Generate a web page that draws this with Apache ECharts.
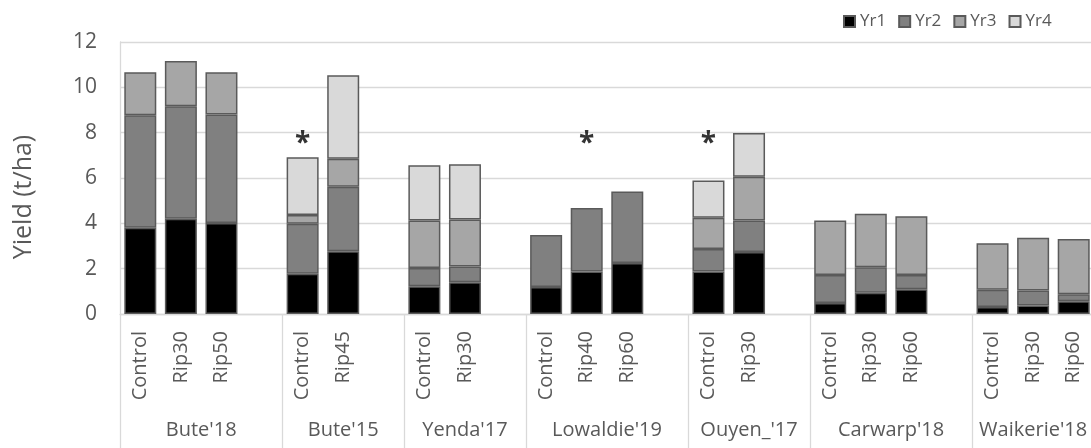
<!DOCTYPE html>
<html>
<head>
<meta charset="utf-8">
<script src="https://cdn.jsdelivr.net/npm/echarts@6/dist/echarts.min.js"></script>
<style>
html,body{margin:0;padding:0;background:#fff;}
#chart{width:1091px;height:448px;}
</style>
</head>
<body>
<div id="chart"></div>
<script>
// Treatment labels (blank entries are the gaps between sites)
const treatments = ['Control','Rip30','Rip50','',
  'Control','Rip45','',
  'Control','Rip30','',
  'Control','Rip40','Rip60','',
  'Control','Rip30','',
  'Control','Rip30','Rip60','',
  'Control','Rip30','Rip60'];
// Site labels and number of slots each site spans
const sites = ["Bute'18","Bute'15","Yenda'17","Lowaldie'19","Ouyen_'17","Carwarp'18","Waikerie'18"];
const siteSizes = [4,3,3,4,3,4,3];
const seriesNames = ['Yr1','Yr2','Yr3','Yr4'];
const yr1 = [3.80,4.20,4.02,null, 1.78,2.77,null, 1.22,1.40,null, 1.19,1.87,2.25,null, 1.87,2.74,null, 0.49,0.94,1.09,null, 0.31,0.37,0.56];
const yr2 = [4.97,4.97,4.78,null, 2.20,2.84,null, 0.81,0.70,null, 2.30,2.81,3.15,null, 1.00,1.39,null, 1.23,1.12,0.63,null, 0.76,0.67,0.31];
const yr3 = [1.90,1.99,1.87,null, 0.39,1.24,null, 2.10,2.07,null, null,null,null,null, 1.38,1.92,null, 2.40,2.36,2.59,null, 2.05,2.32,2.44];
const yr4 = [null,null,null,null, 2.55,3.68,null, 2.43,2.44,null, null,null,null,null, 1.64,1.94,null, null,null,null,null, null,null,null];
// Significance markers (asterisks), placed at this height
const stars = [null,null,null,null, 7.5,null,null, null,null,null, null,7.5,null,null, 7.5,null,null, null,null,null,null, null,null,null];
const yTicks = {min:0, max:12, interval:2};

const colors = ['#000000','#808080','#a6a6a6','#d9d9d9'];
const FONT = 'Open Sans';

// Build site-level axis (half-slot positions)
const total = treatments.length;
const siteLabels = new Array(total*2+1).fill('');
const sepIdx = new Set();
let start = 0;
sites.forEach((s,i)=>{
  siteLabels[2*start + siteSizes[i]] = s;
  sepIdx.add(2*start);
  start += siteSizes[i];
});
sepIdx.add(2*start);
const siteCats = siteLabels.map((l,i)=> l === '' ? ' '.repeat(i+1) : l);

const values = [yr1,yr2,yr3,yr4];
const series = values.map((v,i)=>({
  name: seriesNames[i],
  type: 'bar',
  stack: 'total',
  data: v,
  barWidth: 32,
  xAxisIndex: 0,
  itemStyle: {color: colors[i], borderColor: '#5a5a5a', borderWidth: 1.5},
  emphasis: {disabled: true}
}));
series.push({
  name: 'sig',
  type: 'scatter',
  data: stars,
  symbolSize: 0,
  xAxisIndex: 0,
  label: {show: true, position: 'inside', formatter: '*', fontSize: 28, fontWeight: 'bold', color: '#000', fontFamily: FONT},
  silent: true
});

const chart = echarts.init(document.getElementById('chart'), null, {renderer: 'canvas'});
chart.setOption({
  animation: false,
  textStyle: {fontFamily: FONT},
  legend: {
    data: seriesNames,
    left: 843, top: 13, padding: 0,
    icon: 'rect', itemWidth: 11, itemHeight: 11, itemGap: 12,
    textStyle: {fontSize: 17, color: '#595959', fontFamily: FONT}
  },
  grid: {left: 120, top: 42, width: 974, height: 272, containLabel: false, outerBoundsMode: 'none'},
  xAxis: [{
    type: 'category',
    data: treatments,
    position: 'bottom',
    axisLine: {show: true, lineStyle: {color: '#d9d9d9', width: 1.3}},
    axisTick: {show: false},
    axisLabel: {interval: 0, rotate: 90, margin: 17, fontSize: 20, color: '#595959', fontFamily: FONT},
    splitLine: {show: false}
  }, {
    type: 'category',
    data: siteCats,
    boundaryGap: false,
    position: 'bottom',
    gridIndex: 0,
    axisLine: {show: false},
    axisTick: {show: true, length: 134, interval: (idx)=>sepIdx.has(idx), lineStyle: {color: '#d9d9d9', width: 1.3}},
    axisLabel: {interval: 0, margin: 106, fontSize: 20, color: '#595959', fontFamily: FONT,
      formatter: (v)=> v.trim()},
    splitLine: {show: false}
  }],
  yAxis: {
    type: 'value',
    min: yTicks.min, max: yTicks.max, interval: yTicks.interval,
    name: 'Yield (t/ha)',
    nameLocation: 'middle',
    nameRotate: 90,
    nameGap: 84,
    nameTextStyle: {fontSize: 25, color: '#595959', fontFamily: FONT, padding: [0, 38, 0, 0]},
    axisLine: {show: true, lineStyle: {color: '#d9d9d9', width: 1.3}},
    axisTick: {show: false},
    axisLabel: {margin: 23, fontSize: 21, color: '#595959', fontFamily: FONT},
    splitLine: {show: true, lineStyle: {color: '#d9d9d9', width: 1.3}}
  },
  series: series
});
</script>
</body>
</html>
